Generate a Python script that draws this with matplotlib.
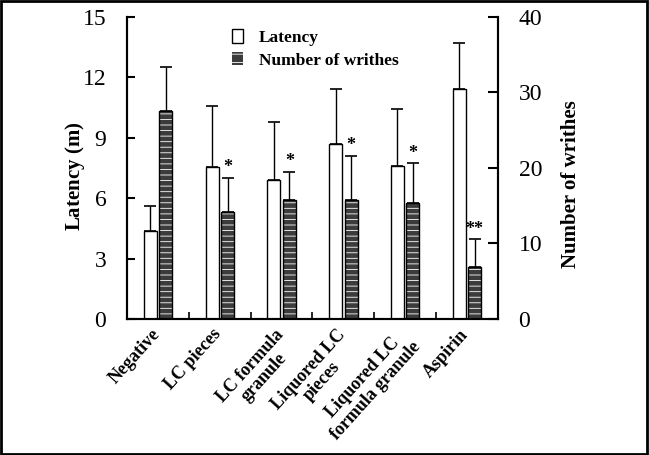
import matplotlib.pyplot as plt
import numpy as np
from matplotlib.patches import Patch, Rectangle

plt.rcParams['font.family'] = ['Liberation Serif', 'DejaVu Serif']
plt.rcParams['hatch.linewidth'] = 0.6

# Data
groups = ['Negative', 'LC pieces', 'LC formula\ngranule', 'Liquored LC\npieces',
          'Liquored LC\nformula granule', 'Aspirin']
latency = [4.35, 7.55, 6.88, 8.7, 7.58, 11.4]
latency_err = [1.25, 3.0, 2.9, 2.7, 2.85, 2.3]
writhes = [27.5, 14.1, 15.7, 15.7, 15.4, 6.9]
writhes_err = [5.9, 4.6, 3.8, 5.9, 5.2, 3.7]
marks = ['', '*', '*', '*', '*', '**']

x = np.arange(len(groups))
w = 0.21
off = 0.125
stripe = '#3c3c3c'

fig = plt.figure(figsize=(6.49, 4.55), dpi=100)
ax = fig.add_axes([0.196, 0.299, 0.571, 0.664])
ax2 = ax.twinx()

# latency bars (left axis)
ax.bar(x - off, latency, w, color='white', edgecolor='black', linewidth=1)
ax.errorbar(x - off, latency, yerr=[np.zeros(6), latency_err], fmt='none',
            ecolor='black', elinewidth=1, capsize=4, capthick=1.2)

# writhes bars (right axis), dark grey with white stripes
ax2.bar(x + off, writhes, w, color=stripe, edgecolor='white', hatch='---', linewidth=0)
ax2.bar(x + off, writhes, w, fill=False, edgecolor='black', linewidth=1)
ax2.errorbar(x + off, writhes, yerr=[np.zeros(6), writhes_err], fmt='none',
             ecolor='black', elinewidth=1, capsize=4, capthick=1.2)
for xi, yv, e, m in zip(x, writhes, writhes_err, marks):
    if m:
        ax2.annotate(m, (xi + off, yv + e), xytext=(0, 1), textcoords='offset points',
                     ha='center', va='bottom', fontsize=13, fontweight='bold')

ax.set_xlim(-0.5, 5.5)
ax.set_ylim(0, 15)
ax2.set_ylim(0, 40)
ax.set_yticks([0, 3, 6, 9, 12, 15])
ax2.set_yticks([0, 10, 20, 30, 40])

ax.set_xticks(x - 0.12)
ax.set_xticklabels(groups, rotation=48, ha='right', rotation_mode='anchor',
                   fontsize=13, fontweight='bold', multialignment='center',
                   linespacing=1.1)
ax.set_xticks(x[:-1] + 0.5, minor=True)
ax.tick_params(axis='x', which='major', length=0, pad=5)
ax.tick_params(axis='x', which='minor', direction='in', length=5, width=1.2)
ax.tick_params(axis='y', direction='in', length=6, width=1.5, labelsize=17, pad=15)
ax2.tick_params(axis='y', direction='in', length=7, width=1.5, labelsize=17, pad=15)

for a in (ax, ax2):
    a.spines['top'].set_visible(False)
    for s in ('left', 'right', 'bottom'):
        a.spines[s].set_linewidth(1.5)

fig.text(75 / 649, 1 - 176 / 455, r'Latency $\mathregular{(m)}$', rotation=90,
         ha='center', va='center', fontsize=15, fontweight='bold')
fig.text(571 / 649, 1 - 184 / 455, 'Number of writhes', rotation=90,
         ha='center', va='center', fontsize=15, fontweight='bold')

handles = [Patch(facecolor='white', edgecolor='black', linewidth=1),
           Patch(facecolor=stripe, edgecolor='white', hatch='--', linewidth=0)]
leg = ax.legend(handles, ['Latency', 'Number of writhes'], loc='upper left',
                bbox_to_anchor=(0.24, 1.01), frameon=False, handlelength=0.65,
                handleheight=0.85, handletextpad=0.9, labelspacing=0.3,
                prop={'weight': 'bold', 'size': 12.5})

# frame around the whole picture
fig.patches.append(Rectangle((0.002, 0.003), 0.995, 0.994, transform=fig.transFigure,
                             fill=False, edgecolor='black', linewidth=2))

fig.savefig('out.png', dpi=100)
